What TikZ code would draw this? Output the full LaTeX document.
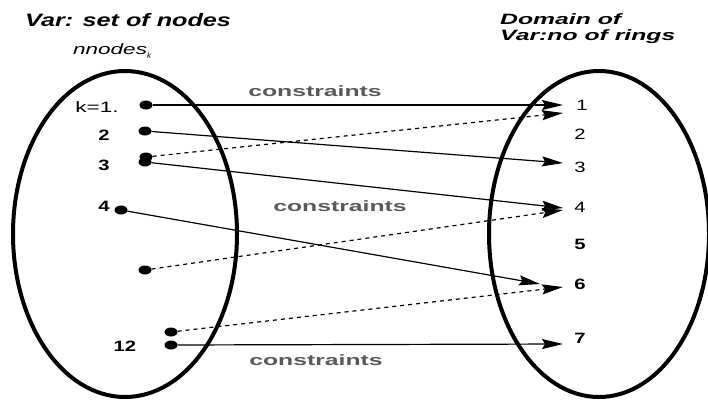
\documentclass[tikz,border=0pt]{standalone}
\usepackage{graphicx}
\usepackage{fontspec}
\setmainfont{Liberation Sans}
\usetikzlibrary{arrows.meta,shapes.geometric}
\newcommand{\hstretch}[2]{\scalebox{#1}[1]{#2}}
\begin{document}
\begin{tikzpicture}[x=1pt,y=-1pt,
  dotnode/.style={ellipse,fill=black,inner sep=0pt,minimum width=13pt,minimum height=9pt},
  setline/.style={line width=4pt},
  conn/.style={line width=1.2pt,-{Stealth[length=21pt,width=10pt,inset=3pt]}},
  dconn/.style={conn,dash pattern=on 4pt off 4pt},
  numlbl/.style={font=\fontsize{15}{17}\selectfont},
  boldlbl/.style={font=\fontsize{15}{17}\selectfont\bfseries},
  conslbl/.style={font=\fontsize{15}{17}\selectfont\bfseries,text=black!65},
  title/.style={font=\fontsize{18}{21}\selectfont\bfseries\itshape}]
\path[fill=white] (0,0) rectangle (708,400);
\useasboundingbox (0,0) rectangle (708,400);
% sets
\draw[setline] (125,234) ellipse [x radius=112,y radius=163];
\draw[setline] (599,234) ellipse [x radius=110,y radius=163];
% titles
\node[title,anchor=west,inner sep=0pt] (tl) at (25,20) {\hstretch{1.4}{Var: set of nodes}};
\node[font=\fontsize{15}{17}\selectfont\itshape,anchor=west,inner sep=0pt] (nn) at (73,51) {\hstretch{1.5}{nnodes}\raisebox{-4pt}{\fontsize{8}{9}\selectfont k}};
\node[font=\fontsize{15}{18}\selectfont\bfseries\itshape,anchor=west,inner sep=0pt] (tr1) at (500,19) {\hstretch{1.65}{Domain of}};
\node[font=\fontsize{15}{18}\selectfont\bfseries\itshape,anchor=west,inner sep=0pt] (tr2) at (500,37) {\hstretch{1.65}{Var:no of rings}};
% left dots
\node[dotnode] (d1) at (146,105) {};
\node[dotnode] (d2) at (145,131) {};
\node[dotnode] (d3a) at (146,157) {};
\node[dotnode] (d3b) at (145,162) {};
\node[dotnode] (d4) at (121,210) {};
\node[dotnode] (d5) at (145,270) {};
\node[dotnode] (d12a) at (171,332) {};
\node[dotnode] (d12b) at (171,345) {};
% left labels
\node[numlbl] (lk) at (97,107) {\hstretch{1.5}{k=1.}};
\node[boldlbl] (l2) at (104,135) {\hstretch{1.35}{2}};
\node[boldlbl] (l3) at (104,165) {\hstretch{1.35}{3}};
\node[boldlbl] (l4) at (104,206) {\hstretch{1.35}{4}};
\node[boldlbl] (l12) at (125,346) {\hstretch{1.35}{12}};
% right labels
\node[numlbl] (r1) at (582,105) {\hstretch{1.35}{1}};
\node[numlbl] (r2) at (580,134) {\hstretch{1.35}{2}};
\node[numlbl] (r3) at (580,167) {\hstretch{1.35}{3}};
\node[numlbl] (r4) at (580,207) {\hstretch{1.35}{4}};
\node[boldlbl] (r5) at (580,244) {\hstretch{1.35}{5}};
\node[boldlbl] (r6) at (580,284) {\hstretch{1.35}{6}};
\node[boldlbl] (r7) at (580,338) {\hstretch{1.35}{7}};
% arrow tips
\coordinate (t1) at (563,105);
\coordinate (t1d) at (563,113);
\coordinate (t3) at (563,163);
\coordinate (t4) at (563,208);
\coordinate (t4d) at (563,210);
\coordinate (t6) at (540,284);
\coordinate (t6d) at (563,287);
\coordinate (t7) at (563,344);
% connectors
\draw[conn] (d1) -- (t1);
\draw[dconn] (d3a) -- (t1d);
\draw[conn] (d2) -- (t3);
\draw[conn] (d3b) -- (t4);
\draw[dconn] (d5) -- (t4d);
\draw[conn] (d4) -- (t6);
\draw[dconn] (d12a) -- (t6d);
\draw[conn] (d12b) -- (t7);
% constraint labels
\node[conslbl] (c1) at (315,91) {\hstretch{1.65}{constraints}};
\node[conslbl] (c2) at (340,206) {\hstretch{1.65}{constraints}};
\node[conslbl] (c3) at (316,360) {\hstretch{1.65}{constraints}};
\end{tikzpicture}
\end{document}
